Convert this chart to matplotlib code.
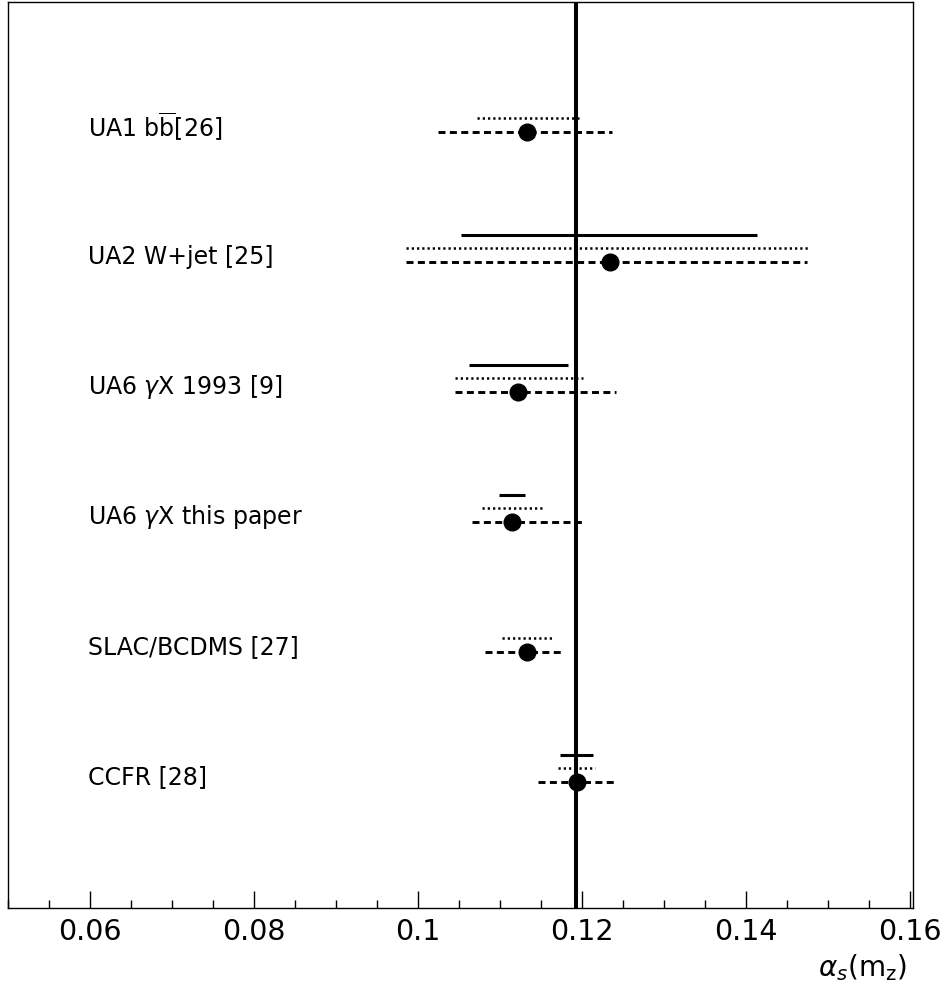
import numpy as np
import matplotlib
matplotlib.use("Agg")
import matplotlib.pyplot as plt
from matplotlib.ticker import MultipleLocator, FixedFormatter, FixedLocator

plt.rcParams["font.family"] = "DejaVu Sans"
plt.rcParams["mathtext.fontset"] = "dejavusans"

# ── data ──────────────────────────────────────────────────
labels = [r"UA1 b$\overline{\mathrm{b}}$[26]", "UA2 W+jet [25]",
          r"UA6 $\gamma$X 1993 [9]", r"UA6 $\gamma$X this paper",
          "SLAC/BCDMS [27]", "CCFR [28]"]
central = [0.1133, 0.1234, 0.1122, 0.1115, 0.1133, 0.1194]
# dashed band (total)
dash_lo = [0.1024, 0.0985, 0.1045, 0.1066, 0.1082, 0.1146]
dash_hi = [0.1237, 0.1475, 0.1241, 0.1201, 0.1177, 0.1240]
# dotted band
dot_lo = [0.1072, 0.0985, 0.1045, 0.1078, 0.1102, 0.1171]
dot_hi = [0.1200, 0.1478, 0.1201, 0.1151, 0.1163, 0.1216]
# solid band (None = not drawn)
sol_lo = [None, 0.1052, 0.1062, 0.1099, None, 0.1173]
sol_hi = [None, 0.1414, 0.1183, 0.1130, None, 0.1213]
world_avg = 0.1193

# ── figure ────────────────────────────────────────────────
fig = plt.figure(figsize=(9.51, 9.91), dpi=100)
ax = fig.add_axes([8/951, 83/991, 905/951, 906/991])

rows = np.arange(1, len(labels) + 1)

ax.axvline(world_avg, color="black", lw=2.9, zorder=1)

for i, y in enumerate(rows):
    ax.plot([dash_lo[i], dash_hi[i]], [y, y], color="black", lw=2.1,
            linestyle=(0, (2.4, 1.5)), solid_capstyle="butt",
            dash_capstyle="butt", zorder=2)
    ax.plot([dot_lo[i], dot_hi[i]], [y - 0.11, y - 0.11], color="black",
            lw=1.8, linestyle=(0, (0.9, 1.2)), dash_capstyle="butt", zorder=2)
    if sol_lo[i] is not None:
        ax.plot([sol_lo[i], sol_hi[i]], [y - 0.21, y - 0.21],
                color="black", lw=2.2, solid_capstyle="butt", zorder=2)
    ax.plot(central[i], y, "o", color="black", ms=12, zorder=3)
    ax.text(0.0597, y - 0.04, labels[i], fontsize=17, ha="left",
            va="center", color="black")

ax.set_xlim(0.05, 0.16037)
ax.set_ylim(906/130, 0)

ax.xaxis.set_major_locator(FixedLocator([0.06, 0.08, 0.10, 0.12, 0.14, 0.16]))
ax.xaxis.set_major_formatter(FixedFormatter(["0.06", "0.08", "0.1",
                                             "0.12", "0.14", "0.16"]))
ax.xaxis.set_minor_locator(MultipleLocator(0.005))
ax.tick_params(axis="x", which="major", direction="in", length=12,
               width=1, labelsize=20.5, pad=7, top=False)
ax.tick_params(axis="x", which="minor", direction="in", length=6,
               width=1, top=False)
ax.set_yticks([])
for s in ax.spines.values():
    s.set_linewidth(1.0)

fig.text(862/951, 1 - 968/991, r"$\alpha_s(\mathrm{m_z})$", fontsize=20,
         ha="center", va="center")

plt.savefig("out.png", dpi=100)
